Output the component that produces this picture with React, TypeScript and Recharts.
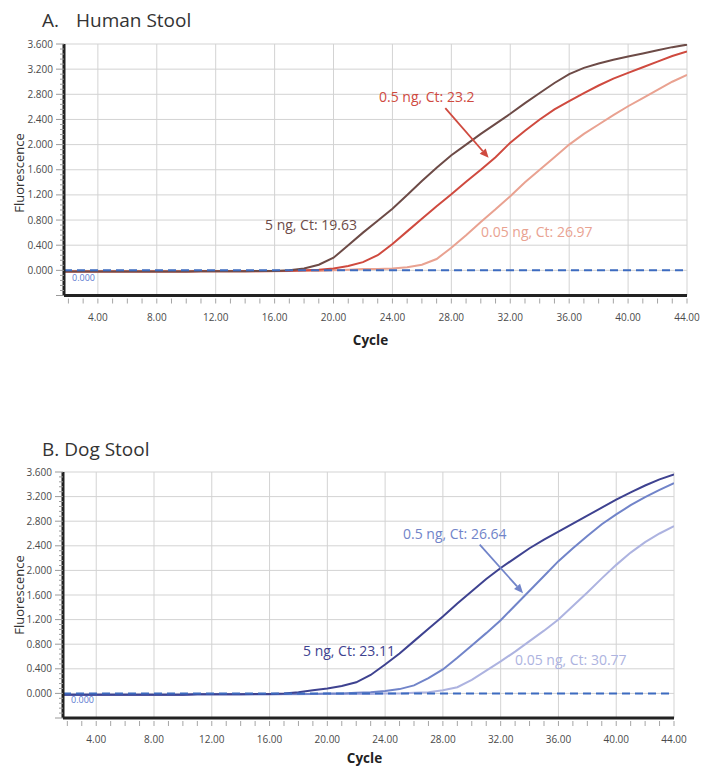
import React from "react";
import {
  LineChart,
  Line,
  XAxis,
  YAxis,
  CartesianGrid,
  ReferenceLine,
} from "recharts";

// cycle numbers shared by every curve
const cycles = [
  1, 2, 3, 4, 5, 6, 7, 8, 9, 10, 11, 12, 13, 14, 15, 16, 17, 18, 19, 20, 21, 22,
  23, 24, 25, 26, 27, 28, 29, 30, 31, 32, 33, 34, 35, 36, 37, 38, 39, 40, 41, 42,
  43, 44,
];

// A. Human stool
const human5ng = [
  -0.02, -0.02, -0.02, -0.02, -0.02, -0.02, -0.02, -0.02, -0.02, -0.02, -0.015,
  -0.015, -0.015, -0.015, -0.01, -0.01, 0.0, 0.03, 0.09, 0.2, 0.4, 0.6, 0.79,
  0.98, 1.2, 1.42, 1.63, 1.83, 2.0, 2.17, 2.33, 2.49, 2.66, 2.82, 2.98, 3.12,
  3.22, 3.29, 3.35, 3.4, 3.45, 3.5, 3.55, 3.59,
];
const human05ng = [
  -0.02, -0.02, -0.02, -0.02, -0.02, -0.02, -0.02, -0.02, -0.02, -0.02, -0.015,
  -0.015, -0.015, -0.015, -0.015, -0.01, -0.01, 0.0, 0.01, 0.03, 0.07, 0.13,
  0.24, 0.42, 0.62, 0.82, 1.02, 1.21, 1.41, 1.6, 1.8, 2.03, 2.22, 2.4, 2.56,
  2.69, 2.82, 2.94, 3.05, 3.14, 3.23, 3.32, 3.41, 3.48,
];
const human005ng = [
  -0.02, -0.02, -0.02, -0.02, -0.02, -0.02, -0.02, -0.02, -0.02, -0.02, -0.015,
  -0.015, -0.015, -0.015, -0.015, -0.015, -0.01, -0.01, -0.01, 0.0, 0.01, 0.02,
  0.02, 0.03, 0.05, 0.09, 0.18, 0.36, 0.56, 0.77, 0.97, 1.18, 1.4, 1.6, 1.8,
  2.0, 2.17, 2.32, 2.47, 2.61, 2.74, 2.87, 3.0, 3.11,
];

// B. Dog stool
const dog5ng = [
  -0.02, -0.02, -0.02, -0.02, -0.02, -0.02, -0.02, -0.02, -0.02, -0.02, -0.015,
  -0.015, -0.015, -0.015, -0.01, -0.01, 0.0, 0.02, 0.05, 0.08, 0.12, 0.18, 0.3,
  0.47, 0.65, 0.85, 1.05, 1.25, 1.46, 1.66, 1.86, 2.04, 2.2, 2.36, 2.5, 2.63,
  2.76, 2.89, 3.02, 3.15, 3.27, 3.38, 3.48, 3.56,
];
const dog05ng = [
  -0.02, -0.02, -0.02, -0.02, -0.02, -0.02, -0.02, -0.02, -0.02, -0.02, -0.015,
  -0.015, -0.015, -0.015, -0.015, -0.015, -0.01, -0.01, -0.01, 0.0, 0.0, 0.01,
  0.02, 0.04, 0.07, 0.13, 0.25, 0.39, 0.58, 0.78, 0.98, 1.19, 1.43, 1.67, 1.91,
  2.15, 2.36, 2.56, 2.75, 2.91, 3.06, 3.19, 3.31, 3.42,
];
const dog005ng = [
  -0.02, -0.02, -0.02, -0.02, -0.02, -0.02, -0.02, -0.02, -0.02, -0.02, -0.015,
  -0.015, -0.015, -0.015, -0.015, -0.015, -0.015, -0.015, -0.01, -0.01, -0.01,
  -0.01, -0.01, 0.0, 0.0, 0.01, 0.02, 0.05, 0.1, 0.22, 0.37, 0.52, 0.68, 0.85,
  1.02, 1.2, 1.42, 1.64, 1.87, 2.09, 2.29, 2.46, 2.6, 2.72,
];

const xMajorTicks = [4, 8, 12, 16, 20, 24, 28, 32, 36, 40, 44];
const yMajorTicks = [-0.4, 0, 0.4, 0.8, 1.2, 1.6, 2.0, 2.4, 2.8, 3.2, 3.6];

// minor ticks: every cycle on x, five steps per major on y
const xTicks = cycles.filter((c) => c >= 2);
const yTicks: number[] = [];
yMajorTicks.forEach((t, i) => {
  if (i === 0) return;
  const prev = yMajorTicks[i - 1];
  for (let k = 0; k < 5; k++) yTicks.push(Math.round((prev + (k * (t - prev)) / 5) * 1000) / 1000);
});
yTicks.push(3.6);

const humanData = cycles.map((c, i) => ({
  cycle: c,
  ng5: human5ng[i],
  ng05: human05ng[i],
  ng005: human005ng[i],
}));
const dogData = cycles.map((c, i) => ({
  cycle: c,
  ng5: dog5ng[i],
  ng05: dog05ng[i],
  ng005: dog005ng[i],
}));

const FONT = "'Open Sans', sans-serif";

const YTick = (props: any) => {
  const { x, y, payload } = props;
  const v = payload.value as number;
  const major = Math.abs(v / 0.4 - Math.round(v / 0.4)) < 1e-6;
  return (
    <g>
      <line x1={x - (major ? 8 : 4)} x2={x} y1={y} y2={y} stroke="#9a9a9a" strokeWidth={1} />
      {major && v > -0.01 && (
        <text x={x - 11} y={y + 3.5} textAnchor="end" fontSize={10} fill="#4a4a4a" fontFamily={FONT}>
          {v.toFixed(3)}
        </text>
      )}
    </g>
  );
};

const XTick = (props: any) => {
  const { x, y, payload } = props;
  const v = payload.value as number;
  const major = v % 4 === 0;
  return (
    <g>
      <line x1={x} x2={x} y1={y + 3} y2={y + 8} stroke="#a5a5a5" strokeWidth={1} />
      {major && (
        <text x={x} y={y + 25} textAnchor="middle" fontSize={10} fill="#4a4a4a" fontFamily={FONT}>
          {v.toFixed(2)}
        </text>
      )}
    </g>
  );
};

const arrowShape = (color: string) => (props: any) => {
  const { x1, y1, x2, y2 } = props;
  const a = Math.atan2(y2 - y1, x2 - x1);
  const L = 9;
  const W = 4;
  const bx = x2 - L * Math.cos(a);
  const by = y2 - L * Math.sin(a);
  const pts = `${x2},${y2} ${bx - W * Math.sin(a)},${by + W * Math.cos(a)} ${bx + W * Math.sin(a)},${by - W * Math.cos(a)}`;
  return (
    <g>
      <line x1={x1} y1={y1} x2={bx} y2={by} stroke={color} strokeWidth={1.8} />
      <polygon points={pts} fill={color} />
    </g>
  );
};

const thresholdLabel = (dy: number) => (p: any) => {
  const vb = p.viewBox || {};
  return (
    <text x={vb.x + 8} y={vb.y + dy} fontSize={9} fill="#5b7bd0" fontFamily={FONT}>
      0.000
    </text>
  );
};

interface PanelProps {
  data: any[];
  colors: [string, string, string];
  width: number;
  height: number;
  margin: { top: number; right: number; bottom: number; left: number };
  arrow: { x: number; y: number }[];
  arrowColor: string;
  labelDy: number;
}

function Panel({ data, colors, width, height, margin, arrow, arrowColor, labelDy }: PanelProps) {
  return (
    <LineChart width={width} height={height} data={data} margin={margin}>
      <CartesianGrid
        stroke="#d3d3d3"
        strokeWidth={1}
        horizontalValues={yMajorTicks.filter((t) => t >= 0)}
        verticalValues={xMajorTicks}
      />
      <XAxis
        dataKey="cycle"
        type="number"
        domain={[1.7, 44]}
        allowDataOverflow
        ticks={xTicks}
        interval={0}
        tick={<XTick />}
        tickLine={false}
        tickSize={0}
        tickMargin={0}
        height={30}
        axisLine={{ stroke: "#222", strokeWidth: 3 }}
      />
      <YAxis
        type="number"
        domain={[-0.4, 3.6]}
        allowDataOverflow
        ticks={yTicks}
        interval={0}
        tick={<YTick />}
        tickLine={false}
        tickSize={0}
        tickMargin={0}
        width={50}
        axisLine={{ stroke: "#222", strokeWidth: 3 }}
      />
      <Line type="linear" dataKey="ng005" stroke={colors[2]} strokeWidth={2} dot={false} isAnimationActive={false} />
      <Line type="linear" dataKey="ng05" stroke={colors[1]} strokeWidth={2} dot={false} isAnimationActive={false} />
      <Line type="linear" dataKey="ng5" stroke={colors[0]} strokeWidth={2} dot={false} isAnimationActive={false} />
      <ReferenceLine
        y={0}
        stroke="#3d6bc0"
        strokeWidth={2}
        strokeDasharray="8 5"
        label={thresholdLabel(labelDy)}
      />
      <ReferenceLine
        segment={arrow}
        stroke={arrowColor}
        shape={arrowShape(arrowColor)}
      />
    </LineChart>
  );
}

const humanColors: [string, string, string] = ["#6d4b47", "#cf4a3f", "#e9a291"];
const dogColors: [string, string, string] = ["#3e4290", "#7184c9", "#adb3e0"];

export default function App() {
  return (
    <div style={{ position: "absolute", left: 0, top: 0, width: 704, height: 767, background: "#fff", fontFamily: FONT }}>
      <div style={{ position: "absolute", left: 0, top: 0 }}>
        <Panel
          data={humanData}
          colors={humanColors}
          width={704}
          height={340}
          margin={{ top: 44, right: 17, bottom: 14.5, left: 14 }}
          arrow={[
            { x: 27.59, y: 2.58 },
            { x: 30.53, y: 1.79 },
          ]}
          arrowColor="#cf4a3f"
          labelDy={10.5}
        />
      </div>
      <div style={{ position: "absolute", left: 0, top: 430 }}>
        <Panel
          data={dogData}
          colors={dogColors}
          width={704}
          height={337}
          margin={{ top: 42, right: 30, bottom: 19, left: 13 }}
          arrow={[
            { x: 30.55, y: 2.42 },
            { x: 33.55, y: 1.63 },
          ]}
          arrowColor="#7184c9"
          labelDy={9.5}
        />
      </div>
      <svg
        width={704}
        height={767}
        style={{ position: "absolute", left: 0, top: 0, pointerEvents: "none" }}
        fontFamily={FONT}
      >
        <text x={42} y={27} fontSize={19} fill="#333">A.</text>
        <text x={76} y={27} fontSize={19} fill="#333">Human Stool</text>
        <text x={42} y={455.5} fontSize={19} fill="#333">B. Dog Stool</text>

        <text x={23.5} y={173} fontSize={13} fill="#333" textAnchor="middle" transform="rotate(-90 23.5 173)">
          Fluorescence
        </text>
        <text x={23.5} y={595} fontSize={13} fill="#333" textAnchor="middle" transform="rotate(-90 23.5 595)">
          Fluorescence
        </text>
        <text x={370.5} y={345} fontSize={13.5} fontWeight="bold" fill="#222" textAnchor="middle">Cycle</text>
        <text x={364.5} y={763} fontSize={13.5} fontWeight="bold" fill="#222" textAnchor="middle">Cycle</text>

        <text x={379} y={101.5} fontSize={14} fill={humanColors[1]}>0.5 ng, Ct: 23.2</text>
        <text x={265} y={229.5} fontSize={14} fill={humanColors[0]}>5 ng, Ct: 19.63</text>
        <text x={481} y={236.5} fontSize={14} fill={humanColors[2]}>0.05 ng, Ct: 26.97</text>

        <text x={403} y={538.5} fontSize={14} fill={dogColors[1]}>0.5 ng, Ct: 26.64</text>
        <text x={303} y={655.5} fontSize={14} fill={dogColors[0]}>5 ng, Ct: 23.11</text>
        <text x={515} y={665} fontSize={14} fill={dogColors[2]}>0.05 ng, Ct: 30.77</text>
      </svg>
    </div>
  );
}
